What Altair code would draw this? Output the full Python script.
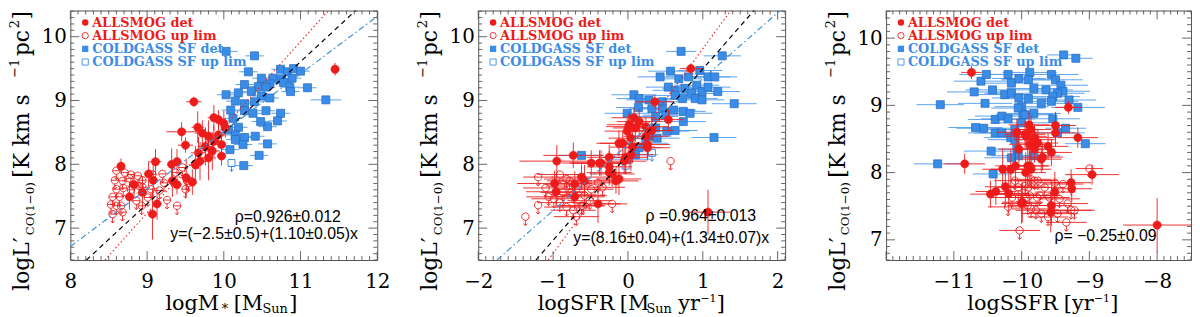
import altair as alt
import numpy as np
import pandas as pd

RED = "#ee1b1b"
BLUE = "#3a8de6"
BLUE_EDGE = "#2468c4"
BLUE_BAR = "#5aa2ee"
FRAME = "#555555"
SERIF = "DejaVu Serif"
SANS = "Liberation Sans"

H = 252
WIDTHS = [310, 310, 308]
X_DOMAINS = [[8, 12], [-2, 2.1], [-12, -7.5]]
Y_DOMAINS = [[6.5, 10.41], [6.5, 10.41], [6.7, 10.41]]
X_TICK_LABELS = [[8, 9, 10, 11, 12], [-2, -1, 0, 1, 2], [-11, -10, -9, -8]]
Y_TICK_LABELS = [7, 8, 9, 10]

# ---------------- panel 1 : logM* ----------------
RED_DET_M = [
    (9.61, 8.98, 0.10, 0.08), (9.87, 8.73, 0.08, 0.20), (9.93, 8.70, 0.08, 0.15),
    (10.00, 8.64, 0.06, 0.20), (10.02, 8.57, 0.06, 0.15), (9.66, 8.58, 0.08, 0.25),
    (9.45, 8.51, 0.20, 0.15), (9.72, 8.49, 0.10, 0.20), (9.80, 8.44, 0.08, 0.25),
    (9.93, 8.46, 0.08, 0.20), (9.87, 8.36, 0.10, 0.25), (9.50, 8.30, 0.10, 0.12),
    (9.97, 8.31, 0.06, 0.15), (9.76, 8.28, 0.10, 0.30), (9.67, 8.18, 0.10, 0.25),
    (9.85, 8.21, 0.10, 0.30), (9.97, 8.13, 0.06, 0.15), (9.80, 8.10, 0.10, 0.35),
    (9.69, 8.05, 0.10, 0.30), (8.66, 7.97, 0.05, 0.12), (9.11, 8.04, 0.08, 0.20),
    (9.32, 8.00, 0.06, 0.25), (9.39, 8.04, 0.06, 0.20), (9.63, 7.99, 0.08, 0.30),
    (9.02, 7.85, 0.06, 0.20), (9.33, 7.74, 0.06, 0.25), (9.39, 7.68, 0.06, 0.15),
    (9.51, 7.79, 0.08, 0.30), (9.59, 7.72, 0.06, 0.20), (9.08, 7.75, 0.06, 0.30),
    (8.83, 7.68, 0.06, 0.20), (8.94, 7.56, 0.06, 0.25), (8.77, 7.49, 0.06, 0.20),
    (9.13, 7.38, 0.06, 0.25), (9.07, 7.22, 0.06, 0.40), (11.45, 9.49, 0.02, 0.10),
]
RED_UL_M = [
    (8.60, 7.90, 0.05), (8.71, 7.87, 0.05), (8.58, 7.75, 0.05), (8.68, 7.74, 0.05),
    (8.77, 7.78, 0.05), (8.88, 7.82, 0.05), (8.94, 7.75, 0.05), (8.60, 7.61, 0.05),
    (8.69, 7.63, 0.05), (8.79, 7.60, 0.05), (8.55, 7.49, 0.05), (8.64, 7.49, 0.05),
    (8.53, 7.37, 0.05), (8.60, 7.35, 0.05), (8.66, 7.35, 0.05), (8.55, 7.22, 0.05),
    (8.68, 7.25, 0.05), (8.86, 7.43, 0.05), (8.93, 7.35, 0.05), (9.01, 7.48, 0.05),
    (9.05, 7.61, 0.05), (8.94, 7.64, 0.05), (9.20, 7.85, 0.05), (9.22, 7.71, 0.05),
    (9.16, 7.59, 0.05), (9.26, 7.44, 0.05), (9.39, 7.35, 0.05), (9.50, 7.61, 0.05),
    (9.52, 7.74, 0.05), (9.37, 7.87, 0.05), (9.46, 7.95, 0.05), (8.90, 7.66, 0.05),
    (9.07, 7.84, 0.05), (8.79, 7.84, 0.05), (9.54, 7.71, 0.05),
]
BLUE_DET_M = [
    (10.03, 9.77, 0.15), (10.40, 9.70, 0.12), (10.32, 9.45, 0.12), (10.49, 9.35, 0.12),
    (10.74, 9.49, 0.12), (10.83, 9.45, 0.12), (10.91, 9.50, 0.12), (11.00, 9.46, 0.12),
    (10.89, 9.35, 0.12), (10.75, 9.34, 0.12), (10.64, 9.35, 0.12), (10.60, 9.26, 0.12),
    (10.78, 9.28, 0.12), (10.86, 9.21, 0.12), (10.87, 9.14, 0.12), (11.09, 9.20, 0.12),
    (11.33, 9.01, 0.20), (10.27, 9.25, 0.12), (10.45, 9.22, 0.12), (10.55, 9.21, 0.12),
    (10.03, 9.09, 0.12), (10.19, 9.12, 0.12), (10.36, 9.14, 0.12), (10.49, 9.07, 0.12),
    (10.60, 9.04, 0.12), (10.15, 8.99, 0.12), (10.27, 8.95, 0.12), (10.40, 8.98, 0.12),
    (10.09, 8.85, 0.12), (10.27, 8.84, 0.12), (10.55, 8.84, 0.12), (10.74, 8.80, 0.12),
    (10.70, 8.68, 0.12), (10.57, 8.59, 0.12), (10.48, 8.67, 0.12), (10.38, 8.80, 0.12),
    (10.12, 8.72, 0.12), (10.19, 8.58, 0.12), (10.06, 8.54, 0.12), (10.27, 8.42, 0.12),
    (10.41, 8.44, 0.12), (10.15, 8.46, 0.12), (10.57, 8.32, 0.12), (10.25, 8.31, 0.12),
    (10.08, 8.23, 0.12), (10.46, 8.14, 0.12), (10.26, 7.98, 0.12), (10.15, 8.39, 0.12),
]
BLUE_UL_M = [(10.10, 8.02)]
BLACK_LINE_M = [(8.21, 6.5), (11.80, 10.5)]
RED_LINE_M = [(8.45, 6.5), (11.43, 10.5)]
BLUE_LINE_M = [(8.0, 6.71), (12.0, 10.32)]

# ---------------- panel 2 : logSFR ----------------
RED_DET_S = [
    (0.84, 9.50, 0.15, 0.08), (0.36, 8.98, 0.25, 0.10), (0.54, 8.70, 0.20, 0.20),
    (0.08, 8.73, 0.30, 0.15), (0.15, 8.67, 0.30, 0.20), (0.02, 8.62, 0.30, 0.20),
    (0.10, 8.57, 0.30, 0.20), (-0.01, 8.52, 0.30, 0.20), (0.32, 8.53, 0.30, 0.20),
    (0.24, 8.59, 0.30, 0.15), (0.04, 8.41, 0.30, 0.25), (-0.12, 8.33, 0.30, 0.20),
    (0.24, 8.44, 0.30, 0.20), (0.26, 8.31, 0.30, 0.20), (0.26, 8.26, 0.30, 0.20),
    (0.06, 8.27, 0.30, 0.25), (0.04, 8.15, 0.30, 0.25), (-0.03, 8.11, 0.30, 0.25),
    (-0.05, 8.05, 0.30, 0.20), (-0.25, 8.11, 0.30, 0.20), (-0.36, 8.02, 0.40, 0.20),
    (-0.25, 7.96, 0.30, 0.25), (-0.21, 7.85, 0.30, 0.20), (-0.12, 7.77, 0.30, 0.25),
    (-0.16, 7.74, 0.30, 0.20), (-0.40, 7.38, 0.30, 0.30), (1.07, 7.25, 0.30, 0.35),
    (-0.73, 8.14, 0.40, 0.20), (-0.95, 8.05, 0.50, 0.25), (-0.49, 8.02, 0.40, 0.20),
    (-0.38, 8.02, 0.40, 0.20), (-0.62, 7.80, 0.40, 0.20), (-0.58, 7.74, 0.40, 0.25),
    (-0.71, 7.69, 0.40, 0.20), (-0.98, 7.70, 0.50, 0.20), (-0.96, 7.57, 0.40, 0.25),
    (-0.71, 7.49, 0.40, 0.20), (-0.25, 7.87, 0.30, 0.20), (-0.07, 8.33, 0.30, 0.20),
    (0.01, 8.59, 0.30, 0.20),
]
RED_UL_S = [
    (-1.20, 7.80, 0.20), (-1.37, 7.18, 0.00), (-1.20, 7.36, 0.00), (-1.10, 7.63, 0.30),
    (-1.06, 7.49, 0.30), (-0.91, 7.84, 0.30), (-0.82, 7.77, 0.30), (-0.80, 7.66, 0.30),
    (-0.87, 7.56, 0.30), (-0.91, 7.40, 0.30), (-0.82, 7.33, 0.30), (-0.73, 7.28, 0.30),
    (-0.69, 7.18, 0.30), (-0.62, 7.35, 0.30), (-0.58, 7.51, 0.30), (-0.51, 7.43, 0.30),
    (-0.49, 7.61, 0.30), (-0.40, 7.71, 0.30), (-0.34, 7.64, 0.30), (-0.78, 7.74, 0.30),
    (-0.99, 7.46, 0.30), (-0.73, 7.53, 0.30), (-0.21, 7.38, 0.20), (-0.69, 7.61, 0.30),
    (0.57, 8.05, 0.00), (-0.60, 7.35, 0.30),
]
BLUE_DET_S = [
    (0.71, 9.77, 0.20), (1.26, 9.70, 0.25), (0.57, 9.46, 0.30), (0.43, 9.37, 0.30),
    (0.68, 9.34, 0.30), (0.81, 9.37, 0.30), (0.96, 9.47, 0.30), (1.07, 9.37, 0.30),
    (1.16, 9.37, 0.30), (0.92, 9.24, 0.30), (0.54, 9.21, 0.30), (0.63, 9.16, 0.30),
    (0.76, 9.19, 0.30), (0.85, 9.11, 0.30), (0.99, 9.14, 0.30), (1.07, 9.21, 0.30),
    (1.20, 9.14, 0.30), (0.90, 9.03, 0.30), (0.99, 9.01, 0.30), (0.73, 9.03, 0.30),
    (0.63, 9.08, 0.30), (0.08, 9.09, 0.30), (0.15, 9.03, 0.30), (0.28, 9.01, 0.30),
    (0.46, 8.98, 0.30), (1.42, 8.95, 0.30), (0.14, 8.89, 0.30), (0.32, 8.87, 0.30),
    (0.46, 8.87, 0.30), (0.61, 8.85, 0.30), (0.74, 8.83, 0.30), (0.83, 8.80, 0.30),
    (-0.01, 8.80, 0.30), (0.37, 8.75, 0.30), (0.50, 8.77, 0.30), (0.74, 8.67, 0.30),
    (0.63, 8.53, 0.30), (0.52, 8.52, 0.30), (0.37, 8.57, 0.30), (0.39, 8.41, 0.30),
    (0.28, 8.44, 0.30), (1.15, 8.42, 0.30), (0.24, 8.33, 0.30), (0.15, 8.26, 0.30),
    (0.10, 8.15, 0.30), (-0.01, 8.08, 0.30), (-0.62, 8.14, 0.30),
]
BLUE_UL_S = [(0.32, 8.18), (-0.03, 7.98)]
BLACK_LINE_S = [(-1.23, 6.5), (1.75, 10.5)]
RED_LINE_S = [(-1.065, 6.5), (1.43, 10.5)]
BLUE_LINE_S = [(-1.75, 6.5), (2.1, 10.48)]

# ---------------- panel 3 : logSSFR ----------------
RED_DET_SS = [
    (-10.74, 9.49, 0.15, 0.10), (-10.84, 8.13, 0.30, 0.15), (-10.28, 8.05, 0.30, 0.30),
    (-10.16, 8.05, 0.30, 0.30), (-10.09, 8.10, 0.30, 0.30), (-10.46, 7.68, 0.30, 0.20),
    (-10.38, 7.72, 0.30, 0.20), (-10.24, 7.79, 0.30, 0.30), (-10.19, 7.69, 0.30, 0.30),
    (-10.00, 7.54, 0.30, 0.30), (-10.07, 8.60, 0.30, 0.20), (-10.04, 8.35, 0.30, 0.20),
    (-9.94, 8.00, 0.30, 0.30), (-9.89, 8.71, 0.30, 0.20), (-9.86, 8.64, 0.30, 0.20),
    (-9.93, 8.54, 0.30, 0.20), (-9.81, 8.49, 0.30, 0.20), (-9.88, 8.42, 0.30, 0.20),
    (-9.88, 8.10, 0.30, 0.30), (-9.86, 8.05, 0.30, 0.30), (-9.71, 8.20, 0.30, 0.20),
    (-9.31, 8.97, 0.20, 0.10), (-9.50, 8.70, 0.30, 0.20), (-9.50, 8.59, 0.30, 0.20),
    (-9.17, 8.52, 0.30, 0.15), (-9.95, 8.57, 0.30, 0.20), (-9.81, 8.52, 0.30, 0.20),
    (-9.76, 8.44, 0.30, 0.20), (-9.61, 8.39, 0.30, 0.20), (-9.81, 8.35, 0.30, 0.20),
    (-9.56, 8.30, 0.30, 0.20), (-9.69, 8.23, 0.30, 0.20), (-9.91, 8.10, 0.30, 0.30),
    (-8.96, 7.97, 0.40, 0.15), (-9.27, 7.85, 0.30, 0.20), (-9.26, 7.76, 0.30, 0.20),
    (-9.99, 7.56, 0.30, 0.30), (-9.56, 7.51, 0.30, 0.30), (-9.57, 7.41, 0.30, 0.30),
    (-9.51, 7.71, 0.30, 0.30), (-8.00, 7.22, 0.50, 0.40),
]
RED_UL_SS = [
    (-10.10, 7.88, 0.30), (-9.95, 7.80, 0.30), (-9.81, 7.88, 0.30), (-9.66, 7.78, 0.30),
    (-9.51, 7.85, 0.30), (-9.39, 7.83, 0.30), (-10.05, 7.68, 0.30), (-9.88, 7.66, 0.30),
    (-9.73, 7.66, 0.30), (-9.59, 7.63, 0.30), (-9.44, 7.61, 0.30), (-9.32, 7.54, 0.30),
    (-9.27, 7.44, 0.30), (-9.22, 7.44, 0.30), (-9.34, 7.26, 0.30), (-9.47, 7.39, 0.30),
    (-9.61, 7.34, 0.30), (-9.79, 7.44, 0.30), (-9.91, 7.51, 0.30), (-10.03, 7.14, 0.30),
    (-9.00, 8.06, 0.20), (-10.20, 7.49, 0.30), (-10.14, 7.63, 0.30), (-10.05, 7.78, 0.30),
    (-9.90, 7.78, 0.30), (-9.93, 7.63, 0.30), (-9.86, 7.46, 0.30), (-9.77, 7.63, 0.30),
    (-9.76, 7.88, 0.30), (-9.86, 7.90, 0.30), (-9.71, 7.39, 0.30),
]
BLUE_DET_SS = [
    (-11.20, 9.01, 0.35), (-11.24, 8.13, 0.35), (-10.70, 9.20, 0.40), (-10.60, 9.36, 0.40),
    (-10.52, 9.46, 0.40), (-10.43, 9.23, 0.40), (-10.54, 9.03, 0.40), (-10.68, 8.67, 0.40),
    (-10.56, 8.66, 0.40), (-10.39, 8.59, 0.40), (-10.29, 8.59, 0.40), (-10.39, 8.79, 0.40),
    (-10.29, 8.84, 0.40), (-10.20, 8.80, 0.40), (-10.45, 8.32, 0.40), (-10.42, 7.98, 0.30),
    (-10.20, 9.46, 0.40), (-10.15, 9.33, 0.40), (-10.04, 9.40, 0.40), (-9.88, 9.49, 0.40),
    (-9.90, 9.38, 0.40), (-9.82, 9.25, 0.40), (-10.25, 9.16, 0.40), (-10.15, 9.18, 0.40),
    (-10.04, 9.11, 0.40), (-9.90, 9.10, 0.40), (-10.00, 8.98, 0.40), (-9.98, 8.87, 0.40),
    (-9.82, 8.88, 0.40), (-10.10, 8.64, 0.40), (-10.16, 8.52, 0.40), (-10.15, 8.22, 0.40),
    (-10.07, 8.35, 0.40), (-9.71, 9.03, 0.40), (-9.38, 9.75, 0.25), (-9.20, 9.70, 0.25),
    (-9.56, 9.46, 0.40), (-9.50, 9.38, 0.40), (-9.42, 9.30, 0.40), (-9.64, 9.23, 0.40),
    (-9.39, 9.21, 0.40), (-9.47, 9.18, 0.40), (-9.54, 9.13, 0.40), (-9.56, 9.06, 0.40),
    (-9.30, 9.08, 0.40), (-9.17, 8.97, 0.40), (-10.05, 8.96, 0.40), (-9.95, 8.86, 0.40),
    (-9.54, 8.80, 0.40), (-9.35, 8.66, 0.30), (-9.06, 8.43, 0.30), (-9.47, 8.59, 0.40),
    (-10.00, 8.74, 0.40), (-10.10, 8.49, 0.40), (-10.05, 8.25, 0.40), (-9.83, 8.25, 0.40),
]
BLUE_UL_SS = []

LEGEND_LABELS = ["ALLSMOG det", "ALLSMOG up lim", "COLDGASS SF det", "COLDGASS SF up lim"]

ANNOT_M = [("ρ=0.926±0.012", 166, 214), ("y=(−2.5±0.5)+(1.10±0.05)x", 101, 231)]
ANNOT_S = [("ρ =0.964±0.013", 169, 213), ("y=(8.16±0.04)+(1.34±0.07)x", 96, 235)]
ANNOT_SS = [("ρ=  −0.25±0.09", 170, 233)]

# x-title pieces: text, x, kind (main/sub/sup)
XT_M = [("logM", 96, "main"), ("*", 153, "sub"), ("[M", 165, "main"), ("Sun", 194, "sub"),
        ("]", 221, "main")]
XT_S = [("logSFR", 60, "main"), ("[M", 143, "main"), ("Sun", 170, "sub"), ("yr", 202, "main"),
        ("−1", 224.5, "sup"), ("]", 241, "main")]
XT_SS = [("logSSFR", 82, "main"), ("[yr", 179.5, "main"), ("−1", 210, "sup"), ("]", 226.5, "main")]

# y-title pieces: text, start y (bottom), kind
YT = [("logL′", 283, "main"), ("CO(1−0)", 227, "sub"), ("[K    km    s", 169, "main"),
      ("−1", 68, "sup"), ("pc", 46, "main"), ("2", 18, "sup"), ("]", 9, "main")]

UL_CIRCLE = "M0,-1A1,1,0,1,1,0,1A1,1,0,1,1,0,-1M0,1L0,2.4M-0.55,1.85L0,2.4L0.55,1.85"
UL_SQUARE = "M-1,-1L1,-1L1,1L-1,1ZM0,1L0,2.4M-0.55,1.85L0,2.4L0.55,1.85"

ONE = pd.DataFrame({"a": [0]})


def txt(text, x, y, **kw):
    return alt.Chart(ONE).mark_text(text=text, **kw).encode(x=alt.value(x), y=alt.value(y))


def panel(i, red_det, red_ul, blue_det, blue_ul, lines, annots, xtitle):
    W = WIDTHS[i]
    xs = alt.Scale(domain=X_DOMAINS[i], nice=False, zero=False)
    ys = alt.Scale(domain=Y_DOMAINS[i], nice=False, zero=False)
    xax = alt.Axis(values=X_TICK_LABELS[i], title=None, labelPadding=12, labelFlush=False,
                   labelOverlap=False, format="d")
    yax = alt.Axis(values=Y_TICK_LABELS, title=None, labelPadding=4, labelFlush=False,
                   labelOverlap=False, format="d")

    def X(f):
        return alt.X(f, type="quantitative", scale=xs, axis=xax)

    def Y(f):
        return alt.Y(f, type="quantitative", scale=ys, axis=yax)

    layers = []
    rd = pd.DataFrame(red_det, columns=["x", "y", "xe", "ye"])
    rd = rd.assign(xlo=rd.x - rd.xe, xhi=rd.x + rd.xe, ylo=rd.y - rd.ye, yhi=rd.y + rd.ye)
    ru = pd.DataFrame(red_ul, columns=["x", "y", "xe"])
    ru = ru.assign(xlo=ru.x - ru.xe, xhi=ru.x + ru.xe)
    bd = pd.DataFrame(blue_det, columns=["x", "y", "xe"])
    bd = bd.assign(xlo=bd.x - bd.xe, xhi=bd.x + bd.xe)

    # blue
    layers.append(alt.Chart(bd).mark_rule(color=BLUE_BAR, strokeWidth=1).encode(
        x=X("xlo"), x2="xhi", y=Y("y")))
    layers.append(alt.Chart(bd).mark_point(shape="square", filled=True, fill=BLUE, stroke=BLUE_EDGE,
                                           strokeWidth=0.7, size=66, opacity=1).encode(x=X("x"), y=Y("y")))
    if blue_ul:
        bu = pd.DataFrame(blue_ul, columns=["x", "y"])
        layers.append(alt.Chart(bu).mark_point(shape=UL_SQUARE, filled=False, stroke=BLUE,
                                               strokeWidth=1, size=50, opacity=1).encode(x=X("x"), y=Y("y")))
    # red
    layers.append(alt.Chart(ru).mark_rule(color=RED, strokeWidth=0.9).encode(
        x=X("xlo"), x2="xhi", y=Y("y")))
    layers.append(alt.Chart(rd).mark_rule(color=RED, strokeWidth=0.9).encode(
        x=X("xlo"), x2="xhi", y=Y("y")))
    layers.append(alt.Chart(rd).mark_rule(color=RED, strokeWidth=0.9).encode(
        x=X("x"), y=Y("ylo"), y2="yhi"))
    layers.append(alt.Chart(ru).mark_point(shape=UL_CIRCLE, filled=False, stroke=RED,
                                           strokeWidth=0.9, size=56, opacity=1).encode(x=X("x"), y=Y("y")))
    layers.append(alt.Chart(rd).mark_point(shape="circle", filled=True, fill=RED, stroke=RED,
                                           strokeWidth=0.5, size=70, opacity=1).encode(x=X("x"), y=Y("y")))
    # lines
    if lines:
        styles = [(RED, [1.5, 2.5], 1.1), ("black", [5, 4], 1.2), ("#3f8fd8", [6, 3, 1.5, 3], 1.2)]
        for pts, (col, dash, sw) in zip(lines, styles):
            ld = pd.DataFrame(pts, columns=["x", "y"])
            layers.append(alt.Chart(ld).mark_line(clip=True, color=col, strokeDash=dash,
                                                  strokeWidth=sw).encode(x=X("x"), y=Y("y")))
    # ticks
    xd = X_DOMAINS[i]
    yd = Y_DOMAINS[i]
    xmaj = [v for v in range(int(np.ceil(xd[0])), int(np.floor(xd[1])) + 1)]
    xmin = [round(v, 1) for v in np.arange(np.ceil(xd[0] * 10) / 10, xd[1] + 1e-9, 0.1)
            if abs(v - round(v)) > 1e-6]
    ymaj = [v for v in range(int(np.ceil(yd[0])), int(np.floor(yd[1])) + 1)]
    ymin = [round(v, 1) for v in np.arange(np.ceil(yd[0] * 10) / 10, yd[1] + 1e-9, 0.1)
            if abs(v - round(v)) > 1e-6]
    for vals, ln in ((xmaj, 9), (xmin, 4)):
        df = pd.DataFrame({"v": vals})
        base = alt.Chart(df).mark_rule(color=FRAME, strokeWidth=0.9)
        layers.append(base.encode(x=X("v"), y=alt.value(H), y2=alt.value(H - ln)))
        layers.append(base.encode(x=X("v"), y=alt.value(0), y2=alt.value(ln)))
    for vals, ln in ((ymaj, 9), (ymin, 4)):
        df = pd.DataFrame({"v": vals})
        base = alt.Chart(df).mark_rule(color=FRAME, strokeWidth=0.9)
        layers.append(base.encode(y=Y("v"), x=alt.value(0), x2=alt.value(ln)))
        layers.append(base.encode(y=Y("v"), x=alt.value(W), x2=alt.value(W - ln)))

    # legend
    rows = [12, 25.3, 38.7, 52]
    layers.append(alt.Chart(ONE).mark_point(shape="circle", filled=True, fill=RED, size=42, opacity=1)
                  .encode(x=alt.value(15), y=alt.value(rows[0])))
    layers.append(alt.Chart(ONE).mark_point(shape="circle", filled=False, stroke=RED, strokeWidth=0.9,
                                            size=40, opacity=1).encode(x=alt.value(15), y=alt.value(rows[1])))
    layers.append(alt.Chart(ONE).mark_point(shape="square", filled=True, fill=BLUE, size=40, opacity=1)
                  .encode(x=alt.value(15), y=alt.value(rows[2])))
    layers.append(alt.Chart(ONE).mark_point(shape="square", filled=False, stroke=BLUE, strokeWidth=0.9,
                                            size=38, opacity=1).encode(x=alt.value(15), y=alt.value(rows[3])))
    for lab, ry, col in zip(LEGEND_LABELS, rows, [RED, RED, BLUE, BLUE]):
        layers.append(txt(lab, 22, ry + 4.5, font=SERIF, fontSize=13, fontWeight="bold", color=col,
                          align="left", baseline="alphabetic"))

    # annotations
    for t, ax_, ay_ in annots:
        layers.append(txt(t, ax_, ay_, font=SANS, fontSize=16, color="black", align="left",
                          baseline="alphabetic"))

    # x title
    for t, px, kind in xtitle:
        if kind == "main":
            layers.append(txt(t, px, 302, font=SERIF, fontSize=21, color="black", align="left",
                              baseline="alphabetic"))
        elif kind == "sub":
            layers.append(txt(t, px, 306, font=SERIF, fontSize=13, color="black", align="left",
                              baseline="alphabetic"))
        else:
            layers.append(txt(t, px, 294, font=SERIF, fontSize=11, color="black", align="left",
                              baseline="alphabetic"))
    # y title
    for t, py, kind in YT:
        if kind == "main":
            layers.append(txt(t, -42, py, font=SERIF, fontSize=22, color="black", align="left",
                              baseline="alphabetic", angle=270))
        elif kind == "sub":
            layers.append(txt(t, -37, py, font=SERIF, fontSize=12, color="black", align="left",
                              baseline="alphabetic", angle=270))
        else:
            layers.append(txt(t, -52, py, font=SERIF, fontSize=13, color="black", align="left",
                              baseline="alphabetic", angle=270))

    return alt.layer(*layers).properties(width=W, height=H)


p1 = panel(0, RED_DET_M, RED_UL_M, BLUE_DET_M, BLUE_UL_M,
           [RED_LINE_M, BLACK_LINE_M, BLUE_LINE_M], ANNOT_M, XT_M)
p2 = panel(1, RED_DET_S, RED_UL_S, BLUE_DET_S, BLUE_UL_S,
           [RED_LINE_S, BLACK_LINE_S, BLUE_LINE_S], ANNOT_S, XT_S)
p3 = panel(2, RED_DET_SS, RED_UL_SS, BLUE_DET_SS, BLUE_UL_SS, [], ANNOT_SS, XT_SS)

chart = alt.hconcat(p1, p2, p3, spacing=102, bounds="flush").properties(
    padding=0
).configure_view(stroke=FRAME, strokeWidth=1).configure_axis(
    grid=False, ticks=False, domain=False, tickSize=0,
    labelFont=SERIF, labelFontSize=20, labelColor="black"
)

chart.save("out.html", embed_options={"renderer": "svg", "actions": False})
